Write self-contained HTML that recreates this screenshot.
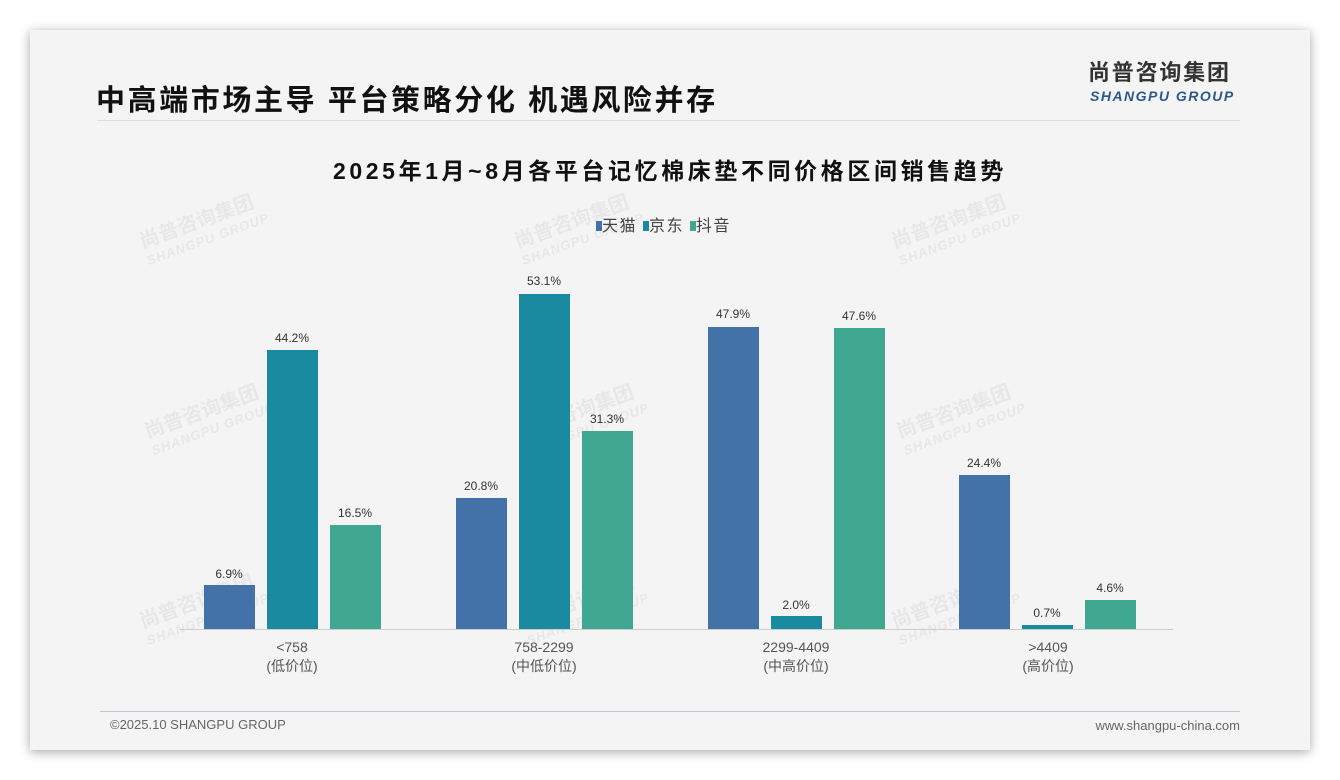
<!DOCTYPE html>
<html><head><meta charset="utf-8"><style>
body{margin:0;width:1340px;height:780px;background:#fff;font-family:"Liberation Sans","Noto Sans CJK SC",sans-serif;overflow:hidden}
.card{position:absolute;left:30px;top:30px;width:1280px;height:720px;background:#f4f4f4;box-shadow:0 2px 10px rgba(0,0,0,.35)}
.t{position:absolute;white-space:nowrap}
.bar{position:absolute;width:51px}
.v{position:absolute;width:60px;text-align:center;font-size:12px;color:#333}
.wm{position:absolute;color:rgba(0,0,0,.05);font-weight:bold;transform:rotate(-20deg);font-size:20px;line-height:20px}
.wm span{display:block;font-size:13px;font-style:italic;letter-spacing:1px}
.c{position:absolute;width:160px;text-align:center;font-size:14px;color:#555;line-height:19px}
</style></head><body>
<div class="card"></div>
<div class="t" style="left:96px;top:77px;font-size:29px;font-weight:bold;color:#111;letter-spacing:2.6px">中高端市场主导 平台策略分化 机遇风险并存</div>
<div class="t" style="left:1088px;top:60px;font-size:22px;line-height:26px;font-weight:bold;color:#333;letter-spacing:1.8px">尚普咨询集团</div>
<div class="t" style="left:1090px;top:88px;font-size:14px;font-weight:bold;font-style:italic;color:#2a5a8a;letter-spacing:1.5px">SHANGPU GROUP</div>
<div style="position:absolute;left:97px;top:120px;width:1143px;height:1px;background:#ddd"></div>
<div class="t" style="left:0;width:1340px;text-align:center;top:152px;font-size:23px;font-weight:bold;color:#111;letter-spacing:3.6px">2025年1月~8月各平台记忆棉床垫不同价格区间销售趋势</div>
<div class="t" style="left:596px;top:212px;font-size:16px;color:#444;letter-spacing:1.5px"><span style="display:inline-block;width:6px;height:10px;background:#4272a8"></span>天猫 <span style="display:inline-block;width:6px;height:10px;background:#1a8aa0"></span>京东 <span style="display:inline-block;width:6px;height:10px;background:#40a890"></span>抖音</div>
<div class="wm" style="left:140px;top:210px">尚普咨询集团<span>SHANGPU GROUP</span></div>
<div class="wm" style="left:515px;top:210px">尚普咨询集团<span>SHANGPU GROUP</span></div>
<div class="wm" style="left:892px;top:210px">尚普咨询集团<span>SHANGPU GROUP</span></div>
<div class="wm" style="left:145px;top:400px">尚普咨询集团<span>SHANGPU GROUP</span></div>
<div class="wm" style="left:520px;top:400px">尚普咨询集团<span>SHANGPU GROUP</span></div>
<div class="wm" style="left:897px;top:400px">尚普咨询集团<span>SHANGPU GROUP</span></div>
<div class="wm" style="left:140px;top:590px">尚普咨询集团<span>SHANGPU GROUP</span></div>
<div class="wm" style="left:520px;top:590px">尚普咨询集团<span>SHANGPU GROUP</span></div>
<div class="wm" style="left:892px;top:590px">尚普咨询集团<span>SHANGPU GROUP</span></div>
<div style="position:absolute;left:180px;top:629px;width:993px;height:1px;background:#ccc"></div>

<div class="bar" style="left:204px;top:585px;height:44px;background:#4272a8"></div><div class="v" style="left:199px;top:567px">6.9%</div>
<div class="bar" style="left:267px;top:350px;height:279px;background:#1a8aa0"></div><div class="v" style="left:262px;top:331px">44.2%</div>
<div class="bar" style="left:330px;top:525px;height:104px;background:#40a890"></div><div class="v" style="left:325px;top:506px">16.5%</div>

<div class="bar" style="left:456px;top:498px;height:131px;background:#4272a8"></div><div class="v" style="left:451px;top:479px">20.8%</div>
<div class="bar" style="left:519px;top:294px;height:335px;background:#1a8aa0"></div><div class="v" style="left:514px;top:274px">53.1%</div>
<div class="bar" style="left:582px;top:431px;height:198px;background:#40a890"></div><div class="v" style="left:577px;top:412px">31.3%</div>

<div class="bar" style="left:708px;top:327px;height:302px;background:#4272a8"></div><div class="v" style="left:703px;top:307px">47.9%</div>
<div class="bar" style="left:771px;top:616px;height:13px;background:#1a8aa0"></div><div class="v" style="left:766px;top:598px">2.0%</div>
<div class="bar" style="left:834px;top:328px;height:301px;background:#40a890"></div><div class="v" style="left:829px;top:309px">47.6%</div>

<div class="bar" style="left:959px;top:475px;height:154px;background:#4272a8"></div><div class="v" style="left:954px;top:456px">24.4%</div>
<div class="bar" style="left:1022px;top:625px;height:4px;background:#1a8aa0"></div><div class="v" style="left:1017px;top:606px">0.7%</div>
<div class="bar" style="left:1085px;top:600px;height:29px;background:#40a890"></div><div class="v" style="left:1080px;top:581px">4.6%</div>

<div class="c" style="left:212px;top:638px">&lt;758<br>(低价位)</div>
<div class="c" style="left:464px;top:638px">758-2299<br>(中低价位)</div>
<div class="c" style="left:716px;top:638px">2299-4409<br>(中高价位)</div>
<div class="c" style="left:968px;top:638px">&gt;4409<br>(高价位)</div>

<div style="position:absolute;left:100px;top:711px;width:1140px;height:1px;background:#b8c8d8"></div>
<div class="t" style="left:110px;top:717px;font-size:13px;color:#666">©2025.10 SHANGPU GROUP</div>
<div class="t" style="right:100px;top:718px;font-size:13px;color:#666">www.shangpu-china.com</div>
</body></html>
